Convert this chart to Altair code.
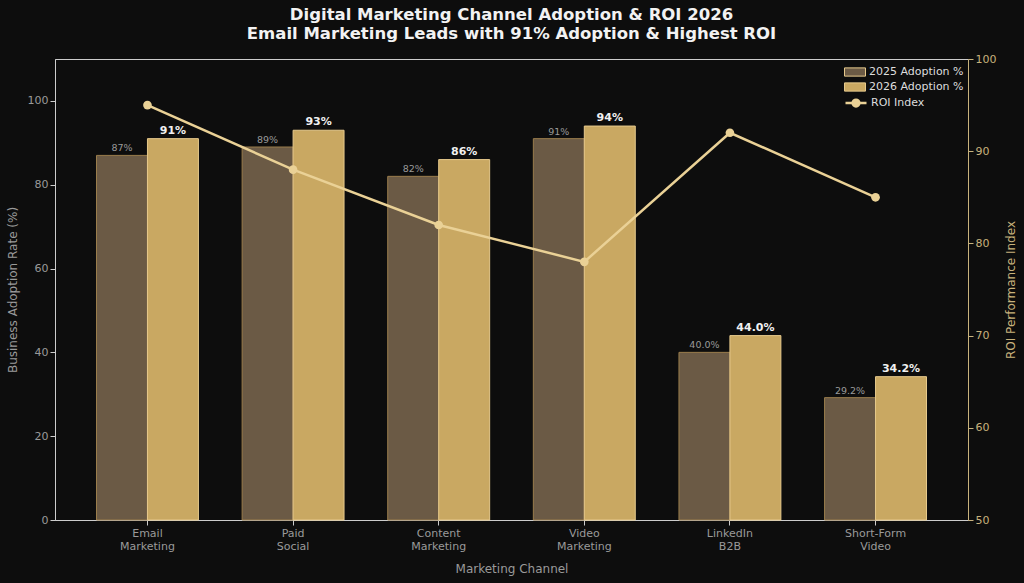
import altair as alt
import pandas as pd

channels = ["Email Marketing", "Paid Social", "Content Marketing", "Video Marketing", "LinkedIn B2B", "Short-Form Video"]
adopt_2025 = [87, 89, 82, 91, 40.0, 29.2]
adopt_2026 = [91, 93, 86, 94, 44.0, 34.2]
labels_2025 = ["87%", "89%", "82%", "91%", "40.0%", "29.2%"]
labels_2026 = ["91%", "93%", "86%", "94%", "44.0%", "34.2%"]
roi_index = [95, 88, 82, 78, 92, 85]

S25, S26, SROI = "2025 Adoption %", "2026 Adoption %", "ROI Index"

rows = []
for i, c in enumerate(channels):
    rows.append({"channel": c, "year": "2025", "series": S25, "value": adopt_2025[i], "label": labels_2025[i]})
    rows.append({"channel": c, "year": "2026", "series": S26, "value": adopt_2026[i], "label": labels_2026[i]})
bars_df = pd.DataFrame(rows)
roi_df = pd.DataFrame({"channel": channels, "roi": roi_index, "series": [SROI] * len(channels)})

BG = "#0d0d0d"
C25, C26, CLINE = "#6b5a45", "#c9a862", "#ead196"
E25, E26 = "#9a7d4c", "#e6c98c"
GRAY = "#9a9a9a"
TAN = "#c8b27c"

xenc = alt.X("channel:N", sort=channels, title="Marketing Channel",
             scale=alt.Scale(paddingInner=0.3, paddingOuter=0.285),
             axis=alt.Axis(labelAngle=0, labelExpr="split(datum.label, ' ')", labelColor=GRAY,
                           labelFontSize=11, labelLineHeight=13, titleColor=GRAY, titleFontSize=12,
                           titleFontWeight="normal", titlePadding=12, domainColor="#cccccc",
                           tickColor="#cccccc", tickSize=5, labelPadding=2))

RECT = "M-1.4,-0.55H1.4V0.55H-1.4Z"
LINESYM = "M-1.4,0H-0.45A0.45,0.45 0 1,1 0.45,0H1.4H0.45A0.45,0.45 0 1,1 -0.45,0Z"

bar_legend = alt.Legend(
    title=None, orient="none", legendX=792, legendY=5, labelColor="#dddddd", labelFontSize=11,
    symbolType=RECT, symbolSize=225, symbolStrokeColor=E26, symbolStrokeWidth=1,
    rowPadding=0, labelOffset=6, zindex=1,
)
line_legend = alt.Legend(
    title=None, orient="none", legendX=792, legendY=35, labelColor="#dddddd", labelFontSize=11,
    symbolType=LINESYM, symbolSize=225, symbolFillColor=CLINE, symbolStrokeWidth=2.5,
    labelOffset=6, zindex=1,
)

yleft = alt.Y("value:Q", title="Business Adoption Rate (%)",
              scale=alt.Scale(domain=[0, 110], nice=False),
              axis=alt.Axis(values=[0, 20, 40, 60, 80, 100], grid=False, labelColor=GRAY, labelFontSize=11,
                            titleColor=GRAY, titleFontSize=12, titleFontWeight="normal",
                            domainColor="#cccccc", tickColor="#cccccc", tickSize=5, titlePadding=8))

bars = alt.Chart(bars_df).mark_bar(strokeWidth=1, opacity=1).encode(
    x=xenc,
    xOffset=alt.XOffset("year:N", sort=["2025", "2026"], scale=alt.Scale(paddingInner=0, paddingOuter=0)),
    y=yleft,
    fill=alt.Fill("series:N", scale=alt.Scale(domain=[S25, S26], range=[C25, C26]), legend=bar_legend),
    stroke=alt.condition(alt.datum.year == "2025", alt.value(E25), alt.value(E26)),
)

text25 = alt.Chart(bars_df).transform_filter(alt.datum.year == "2025").mark_text(
    dy=-7, fontSize=9.5, color=GRAY, font="DejaVu Sans"
).encode(
    x=alt.X("channel:N", sort=channels),
    xOffset=alt.XOffset("year:N", sort=["2025", "2026"]),
    y=alt.Y("value:Q"),
    text="label:N",
)
text26 = alt.Chart(bars_df).transform_filter(alt.datum.year == "2026").mark_text(
    dy=-8, fontSize=11, fontWeight="bold", color="#f0f0f0", font="DejaVu Sans"
).encode(
    x=alt.X("channel:N", sort=channels),
    xOffset=alt.XOffset("year:N", sort=["2025", "2026"]),
    y=alt.Y("value:Q"),
    text="label:N",
)

yright = alt.Y("roi:Q", title="ROI Performance Index",
               scale=alt.Scale(domain=[50, 100], nice=False),
               axis=alt.Axis(orient="right", values=[50, 60, 70, 80, 90, 100], grid=False, labelColor=TAN,
                             labelFontSize=11, titleColor=TAN, titleFontSize=12, titleFontWeight="normal",
                             titleAngle=270, titleBaseline="top",
                             domainColor=TAN, tickColor=TAN, tickSize=5, titlePadding=10))

line = alt.Chart(roi_df).mark_line(strokeWidth=2.5).encode(
    x=alt.X("channel:N", sort=channels),
    y=yright,
    stroke=alt.Stroke("series:N", scale=alt.Scale(domain=[SROI], range=[CLINE]), legend=line_legend),
)
points = alt.Chart(roi_df).mark_point(filled=True, size=75, opacity=1, color=CLINE).encode(
    x=alt.X("channel:N", sort=channels),
    y=alt.Y("roi:Q"),
)

right = alt.layer(line, points)
left = alt.layer(bars, text25, text26)

chart = alt.layer(left, right).resolve_scale(y="independent").properties(
    width=913, height=461,
    autosize=alt.AutoSizeParams(type="none"),
    padding={"left": 55, "top": 59, "right": 56, "bottom": 63},
    background=BG,
    title=alt.Title(
        text=["Digital Marketing Channel Adoption & ROI 2026", "Email Marketing Leads with 91% Adoption & Highest ROI"],
        color="#f2f2f2", fontSize=16.5, fontWeight="bold", font="DejaVu Sans", anchor="middle",
        lineHeight=19, offset=11,
    ),
).configure(font="DejaVu Sans").configure_view(stroke="#cccccc", strokeWidth=1).configure_axis(
    labelFont="DejaVu Sans", titleFont="DejaVu Sans"
).configure_legend(labelFont="DejaVu Sans")

chart.save("out.html", embed_options={"renderer": "svg", "actions": False})
